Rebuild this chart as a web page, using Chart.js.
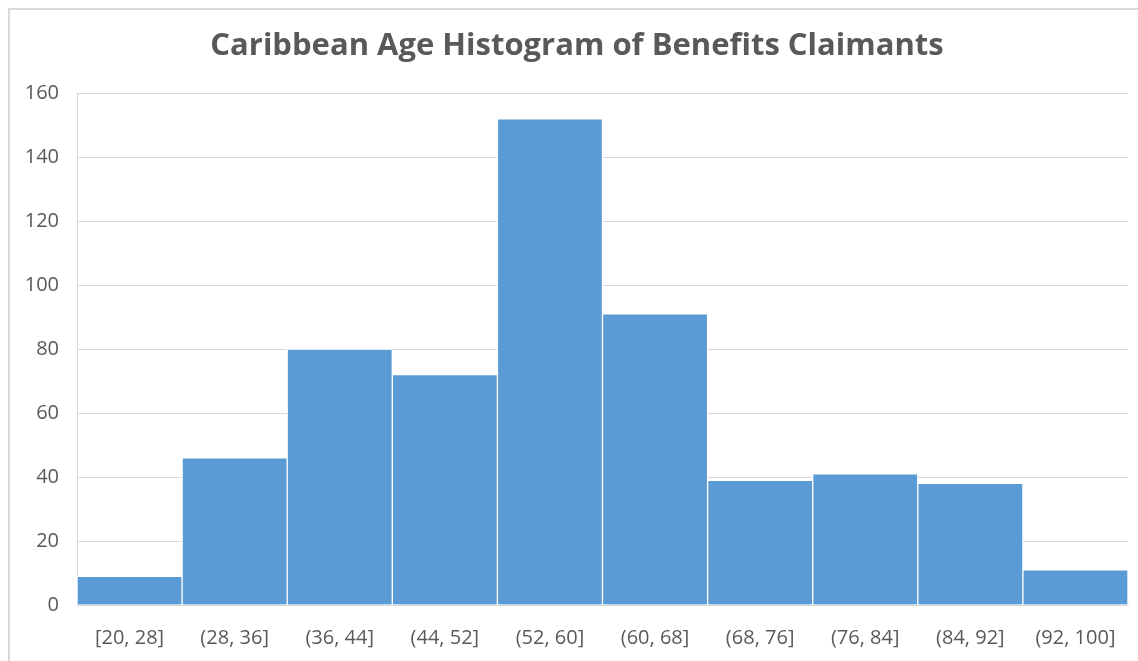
<!DOCTYPE html>
<html>
<head>
<meta charset="utf-8">
<script src="https://cdn.jsdelivr.net/npm/chart.js@4"></script>
<style>
  html, body { margin: 0; padding: 0; background: #fff; }
  #frame {
    position: absolute; left: 8px; top: 8px; right: -4px; bottom: -4px;
    border-left: 2px solid #d9d9d9; border-top: 2px solid #d9d9d9;
  }
  #wrap { position: absolute; left: 0; top: 0; width: 1138px; height: 661px; }
</style>
</head>
<body>
<div id="frame"></div>
<div id="wrap"><canvas id="chart"></canvas></div>
<script>
const bins = ["[20, 28]", "(28, 36]", "(36, 44]", "(44, 52]", "(52, 60]",
              "(60, 68]", "(68, 76]", "(76, 84]", "(84, 92]", "(92, 100]"];
const counts = [9, 46, 80, 72, 152, 91, 39, 41, 38, 11];
const yTicks = [0, 20, 40, 60, 80, 100, 120, 140, 160];

const font = "'Open Sans', 'Noto Sans', sans-serif";
const grey = "#595959";

new Chart(document.getElementById("chart"), {
  type: "bar",
  data: {
    labels: bins,
    datasets: [{
      data: counts,
      backgroundColor: "#5b9bd5",
      borderColor: "#ffffff",
      borderWidth: 1,
      categoryPercentage: 1,
      barPercentage: 1
    }]
  },
  options: {
    responsive: true,
    maintainAspectRatio: false,
    animation: false,
    // left padding pushes the title centre right; y axis width keeps plot at x=77
    layout: { padding: { left: 26, right: 10, top: 0, bottom: 0 } },
    plugins: {
      legend: { display: false },
      tooltip: { enabled: false },
      title: {
        display: true,
        text: "Caribbean Age Histogram of Benefits Claimants",
        color: grey,
        font: { family: font, size: 31, weight: "bold" },
        padding: { top: 28, bottom: 28 }
      }
    },
    scales: {
      x: {
        grid: { display: false, drawTicks: false },
        border: { color: "#d9d9d9" },
        ticks: { color: grey, font: { family: font, size: 20 }, padding: 21, maxRotation: 0 },
        afterFit: s => { s.height = 56; }
      },
      y: {
        min: 0,
        max: 160,
        afterBuildTicks: s => { s.ticks = yTicks.map(v => ({ value: v })); },
        grid: { color: "#d9d9d9", drawTicks: false },
        border: { color: "#d9d9d9" },
        ticks: { color: grey, font: { family: font, size: 20 }, padding: 18 },
        afterFit: s => { s.width = 51; }
      }
    }
  }
});
</script>
</body>
</html>
